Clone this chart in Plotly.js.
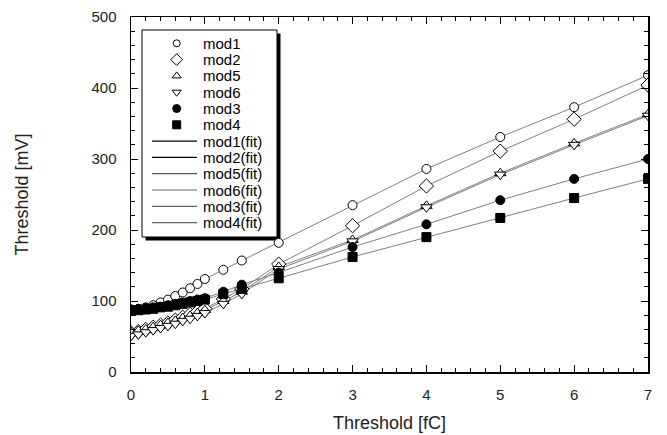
<!DOCTYPE html>
<html>
<head>
<meta charset="utf-8">
<script src="https://cdn.plot.ly/plotly-3.0.1.min.js"></script>
<style>html,body{margin:0;padding:0;background:#fff;}#chart{width:667px;height:435px;}</style>
</head>
<body>
<div id="chart"></div>
<script>
// Charge threshold [fC]
var thresholdFC = [0, 0.1, 0.2, 0.3, 0.4, 0.5, 0.6, 0.7, 0.8, 0.9, 1.0, 1.25, 1.5, 2, 3, 4, 5, 6, 7];
// Measured thresholds [mV]
var mod1 = [88, 89, 91, 94, 98, 102, 107, 112, 118, 124, 131, 144, 157, 182, 235, 286, 331, 373, 418];
var mod2 = [55, 57, 60, 63, 66, 69, 73, 77, 81, 85, 89, 103, 117, 152, 206, 262, 311, 356, 404];
var mod5 = [56, 58, 60, 63, 66, 69, 72, 76, 79, 83, 87, 100, 113, 148, 186, 234, 280, 322, 363];
var mod6 = [51, 53, 56, 59, 62, 65, 68, 72, 75, 79, 83, 96, 110, 145, 184, 232, 278, 320, 361];
var mod3 = [88, 89, 90, 91, 92, 94, 96, 98, 100, 102, 104, 113, 123, 140, 176, 208, 242, 272, 300];
var mod4 = [86, 87, 88, 89, 91, 92, 94, 96, 98, 100, 102, 110, 117, 132, 162, 190, 217, 245, 272];

var seriesNames = ['mod1', 'mod2', 'mod5', 'mod6', 'mod3', 'mod4'];
var seriesValues = [mod1, mod2, mod5, mod6, mod3, mod4];
var fitNames = ['mod1(fit)', 'mod2(fit)', 'mod5(fit)', 'mod6(fit)', 'mod3(fit)', 'mod4(fit)'];

var symbols = ['circle', 'diamond', 'triangle-up', 'triangle-down', 'circle', 'square'];
var fills = ['#fff', '#fff', '#fff', '#fff', '#000', '#000'];
var sizes = [9, 11, 10, 10, 9, 9];
var legSizes = [7, 9, 8, 8, 8, 8];
var fitLegColors = ['#000', '#000', '#555', '#666', '#666', '#666'];

var FONT = 'Liberation Sans, Arial, sans-serif';
var traces = [];
// fit lines
for (var i = 0; i < seriesValues.length; i++) {
  traces.push({
    x: thresholdFC, y: seriesValues[i], type: 'scatter', mode: 'lines',
    name: fitNames[i], showlegend: false, hoverinfo: 'skip',
    line: {color: '#808080', width: 1}
  });
}
// data markers
for (var i = 0; i < seriesValues.length; i++) {
  traces.push({
    x: thresholdFC, y: seriesValues[i], type: 'scatter', mode: 'markers',
    name: seriesNames[i], showlegend: false,
    marker: {symbol: symbols[i], size: sizes[i], color: fills[i], line: {color: '#000', width: 1}}
  });
}

// custom legend on an overlay pixel axis
var L = {left: 142, top: 30, right: 277, bottom: 237, symX: 176.7, lineX0: 152, lineX1: 197, textX: 203, row0: 43.3, rowStep: 16.3};
var legendLabels = seriesNames.concat(fitNames);
for (var k = 0; k < 6; k++) {
  traces.push({
    x: [L.symX], y: [L.row0 + k * L.rowStep], xaxis: 'x2', yaxis: 'y2', type: 'scatter', mode: 'markers',
    showlegend: false, hoverinfo: 'skip',
    marker: {symbol: symbols[k], size: legSizes[k], color: fills[k], line: {color: '#000', width: 1}}
  });
}

var shapes = [
  {type: 'rect', xref: 'x2', yref: 'y2', x0: L.left + 3.5, y0: L.top + 3.5, x1: L.right + 3.5, y1: L.bottom + 3.5,
   fillcolor: '#000', line: {width: 0}, layer: 'below'},
  {type: 'rect', xref: 'x2', yref: 'y2', x0: L.left, y0: L.top, x1: L.right, y1: L.bottom,
   fillcolor: '#fff', line: {color: '#000', width: 1}, layer: 'below'}
];
for (var k = 0; k < 6; k++) {
  var yy = L.row0 + (k + 6) * L.rowStep;
  shapes.push({type: 'line', xref: 'x2', yref: 'y2', x0: L.lineX0, x1: L.lineX1, y0: yy, y1: yy,
    line: {color: fitLegColors[k], width: 1.2}});
}
var annotations = legendLabels.map(function (t, k) {
  return {xref: 'x2', yref: 'y2', x: L.textX, y: L.row0 + k * L.rowStep, text: t, showarrow: false,
    xanchor: 'left', yanchor: 'middle', xshift: -2, font: {family: FONT, size: 15, color: '#000'}};
});

var axisCommon = {
  showline: true, linecolor: '#000', linewidth: 1.5, mirror: 'ticks', ticks: 'inside',
  ticklen: 7, tickwidth: 1, tickcolor: '#000', showgrid: false, zeroline: false,
  tickfont: {family: FONT, size: 15, color: '#222'}
};

var layout = {
  width: 667, height: 435,
  margin: {l: 131, r: 19, t: 17, b: 63},
  paper_bgcolor: '#fff', plot_bgcolor: '#fff',
  showlegend: false,
  xaxis: Object.assign({}, axisCommon, {
    range: [0, 7], dtick: 1, tick0: 0, ticklabelstandoff: 8,
    minor: {dtick: 0.2, ticks: 'inside', ticklen: 4, tickcolor: '#000', tickwidth: 1},
    title: {text: 'Threshold [fC]', standoff: 15, font: {family: FONT, size: 18, color: '#222'}}
  }),
  yaxis: Object.assign({}, axisCommon, {
    range: [0, 500], dtick: 100, tick0: 0, ticklabelstandoff: 10,
    minor: {dtick: 20, ticks: 'inside', ticklen: 4, tickcolor: '#000', tickwidth: 1},
    title: {text: 'Threshold [mV]', standoff: 58, font: {family: FONT, size: 18, color: '#222'}}
  }),
  xaxis2: {overlaying: 'x', anchor: 'y2', range: [131, 648], visible: false, fixedrange: true},
  yaxis2: {overlaying: 'y', anchor: 'x2', range: [372, 17], visible: false, fixedrange: true},
  shapes: shapes,
  annotations: annotations
};

Plotly.newPlot('chart', traces, layout, {displayModeBar: false, staticPlot: true});
</script>
</body>
</html>
